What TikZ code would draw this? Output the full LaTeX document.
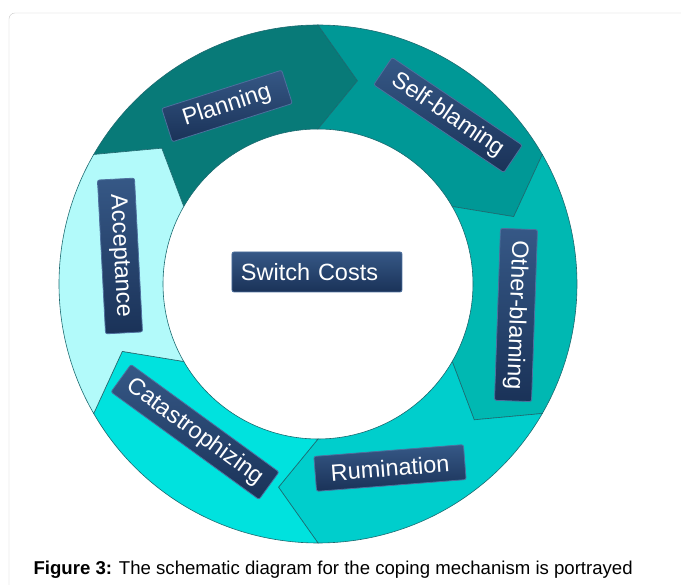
\documentclass[tikz,border=0pt]{standalone}
\usepackage{fontspec}
\setmainfont{Liberation Sans}
\definecolor{planC}{RGB}{8,122,120}
\definecolor{selfC}{RGB}{0,152,150}
\definecolor{otherC}{RGB}{0,184,178}
\definecolor{rumC}{RGB}{0,206,204}
\definecolor{catC}{RGB}{0,226,222}
\definecolor{accC}{RGB}{178,250,250}
\definecolor{segline}{RGB}{28,106,112}
\definecolor{boxtop}{RGB}{54,88,134}
\definecolor{boxbot}{RGB}{26,50,88}
\definecolor{boxedge}{RGB}{78,112,158}
\definecolor{framegray}{RGB}{200,200,200}
\begin{document}
\begin{tikzpicture}[x=1pt,y=1pt,
	seg/.style={draw=segline, line width=0.6pt},
	lbl/.style={rounded corners=2pt, top color=boxtop, bottom color=boxbot, draw=boxedge,
		line width=0.8pt, text=white, font=\fontsize{23.5}{26}\selectfont,
		minimum height=35pt, inner xsep=0pt}]
	\useasboundingbox (-318,-301) rectangle (363,284);
	\clip (-318,-301) rectangle (363,284);
	\draw[framegray, rounded corners=6] (-309,-330) rectangle (400,271);
	% ring of six chevrons, clockwise from the upper left
	\foreach \a/\c in {150/planC, 90/selfC, 30/otherC, -30/rumC, -90/catC, -150/accC}{
		\pgfmathsetmacro\b{\a-60}
		\filldraw[seg, fill=\c] (\a:259) arc[start angle=\a, end angle=\b, radius=259]
			-- (\b-11:207) -- (\b:155) arc[start angle=\b, end angle=\a, radius=155]
			-- (\a-11:207) -- cycle;
	}
	\node[lbl, minimum width=126pt, rotate=17.7] (plan) at (-91,178) {Planning};
	\node[lbl, minimum width=157pt, minimum height=33pt, rotate=-34] (self) at (130,169) {Self-blaming};
	\node[lbl, minimum width=172pt, minimum height=37pt, rotate=-92] (other) at (198,-31) {Other-blaming};
	\node[lbl, minimum width=150pt, rotate=4.5] (rum) at (72,-184) {Rumination};
	\node[lbl, minimum width=183pt, minimum height=34pt, rotate=-36] (cat) at (-123,-148) {Catastrophizing};
	\node[lbl, minimum width=154pt, minimum height=37pt, rotate=-87] (acc) at (-198,28) {Acceptance};
	\node[lbl, minimum height=40pt, text width=152pt, inner xsep=9pt, align=left] (cost) at (-1,12) {Switch Costs};
	\node[anchor=base west, font=\fontsize{18.6}{21}\selectfont] (cap) at (-288,-291)
		{\textbf{Figure 3:} The schematic diagram for the coping mechanism is portrayed};
\end{tikzpicture}
\end{document}
